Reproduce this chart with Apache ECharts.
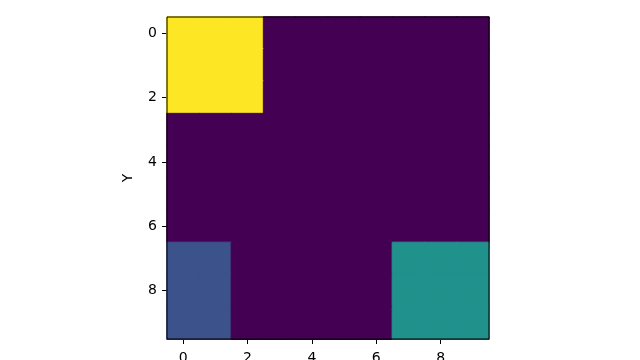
<!DOCTYPE html>
<html><head><meta charset="utf-8">
<script src="https://cdn.jsdelivr.net/npm/echarts@6/dist/echarts.min.js"></script>
<style>html,body{margin:0;padding:0;background:#fff}#c{width:640px;height:360px}</style>
</head><body><div id="c"></div>
<script>
const xCategories = ['0','1','2','3','4','5','6','7','8','9'];
const yCategories = ['0','1','2','3','4','5','6','7','8','9'];
// grid values, row by row (row 0 at top)
const row0 = [4,4,4,0,0,0,0,0,0,0];
const row1 = [4,4,4,0,0,0,0,0,0,0];
const row2 = [4,4,4,0,0,0,0,0,0,0];
const row3 = [0,0,0,0,0,0,0,0,0,0];
const row4 = [0,0,0,0,0,0,0,0,0,0];
const row5 = [0,0,0,0,0,0,0,0,0,0];
const row6 = [0,0,0,0,0,0,0,0,0,0];
const row7 = [1,1,0,0,0,0,0,2,2,2];
const row8 = [1,1,0,0,0,0,0,2,2,2];
const row9 = [1,1,0,0,0,0,0,2,2,2];
const rows = [row0,row1,row2,row3,row4,row5,row6,row7,row8,row9];
// viridis colours at value 0,1,2,3,4 (range 0..4)
const viridis = ['#440154','#3b528b','#21918c','#5ec962','#fde725'];

const data = [];
rows.forEach((r, yi) => r.forEach((v, xi) => {
  const c = viridis[v];
  data.push({value: [xi, yi, v], itemStyle: {color: c, borderColor: c, borderWidth: 1}});
}));

const font = 'DejaVu Sans';
const chart = echarts.init(document.getElementById('c'), null, {renderer:'canvas'});
chart.setOption({
  animation: false,
  backgroundColor: '#fff',
  textStyle: {fontFamily: font},
  grid: {left: 167, top: 17, width: 322, height: 322, outerBoundsMode: 'none', containLabel: false,
         show: true, borderColor: '#000', borderWidth: 1, backgroundColor: 'transparent', z: 5},
  xAxis: {
    type: 'category', data: xCategories, position: 'bottom',
    axisLine: {show: true, lineStyle: {color: '#000', width: 1}},
    axisTick: {show: true, alignWithLabel: true, interval: 1, length: 5, lineStyle: {color: '#000'}},
    axisLabel: {interval: 1, margin: 12, color: '#000', fontSize: 14, fontFamily: font},
    splitLine: {show: false}
  },
  yAxis: {
    type: 'category', data: yCategories, inverse: true,
    name: 'Y', nameLocation: 'middle', nameGap: 32, nameRotate: 90,
    nameTextStyle: {color: '#000', fontSize: 14, fontFamily: font},
    axisLine: {show: true, lineStyle: {color: '#000', width: 1}},
    axisTick: {show: true, alignWithLabel: true, interval: 1, length: 5, lineStyle: {color: '#000'}},
    axisLabel: {interval: 1, margin: 10, color: '#000', fontSize: 14, fontFamily: font},
    splitLine: {show: false}
  },
  series: [{
    type: 'heatmap', data: data,
    emphasis: {disabled: true}
  }]
});
</script></body></html>
